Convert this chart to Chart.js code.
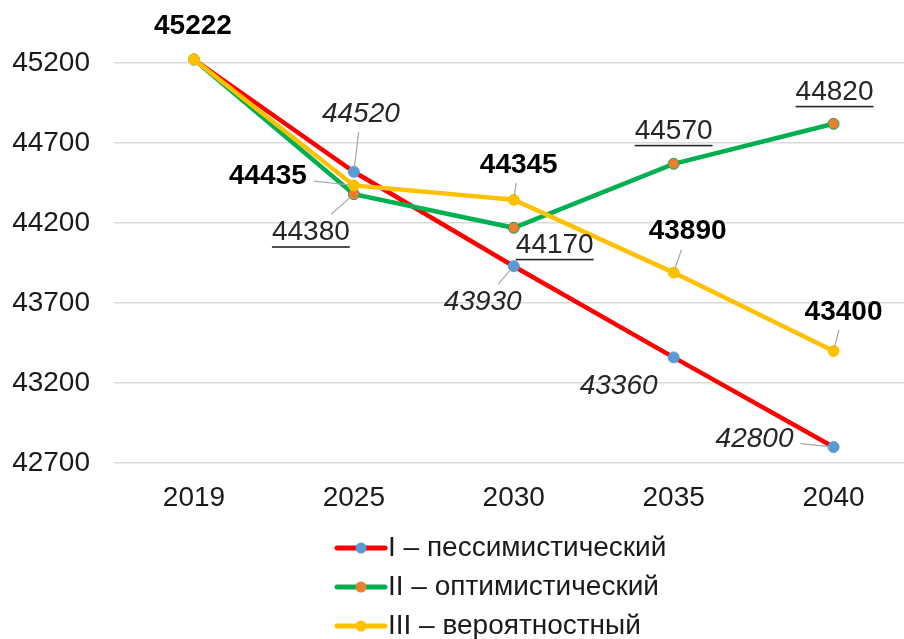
<!DOCTYPE html>
<html>
<head>
<meta charset="utf-8">
<script src="https://cdn.jsdelivr.net/npm/chart.js@4.4.0/dist/chart.umd.min.js"></script>
<style>
html,body{margin:0;padding:0;overflow:hidden;background:#fff;width:904px;height:639px}
#wrap{position:relative;width:920px;height:639px}
</style>
</head>
<body>
<div id="wrap"><canvas id="c" width="920" height="639"></canvas></div>
<script>
// ---- data ----
const years = ['2019', '2025', '2030', '2035', '2040'];
const pessimistic = [45222, 44520, 43930, 43360, 42800];
const optimistic  = [45222, 44380, 44170, 44570, 44820];
const probable    = [45222, 44435, 44345, 43890, 43400];
const seriesNames = ['I – пессимистический', 'II – оптимистический', 'III – вероятностный'];
const yMin = 42700, yMax = 45200, yStep = 500;

// ---- styling / layout ----
const FONT = '"Liberation Sans", Arial, sans-serif';
const FS = 28;
const lineColors = ['#FF0000', '#00B050', '#FFC000'];
const markerColors = ['#5B9BD5', '#ED7D31', '#FFC000'];

const labelLayout = [
  { style: 'italic', weight: 'normal', underline: false, color: '#262626',
    offsets: [null, [7, -58], [-31, 36], [-55, 29], [-79, -8]],
    leaders: [false, true, true, false, true] },
  { style: 'normal', weight: 'normal', underline: true, color: '#262626',
    offsets: [null, [-43, 38], [41, 17], [0, -33], [1, -32]],
    leaders: [false, true, false, false, false] },
  { style: 'normal', weight: 'bold', underline: false, color: '#000000',
    offsets: [[-1, -33], [-86, -9], [5, -35], [14, -41], [10, -39]],
    leaders: [false, true, true, true, true] }
];

const dataLabelPlugin = {
  id: 'dataLabels',
  afterDatasetsDraw(chart) {
    const ctx = chart.ctx;
    chart.data.datasets.forEach((ds, i) => {
      const meta = chart.getDatasetMeta(i);
      const L = labelLayout[i];
      meta.data.forEach((pt, j) => {
        const off = L.offsets[j];
        if (!off) return;
        const text = String(ds.data[j]);
        const lx = pt.x + off[0], ly = pt.y + off[1];
        ctx.save();
        ctx.font = `${L.style} ${L.weight} ${FS}px ${FONT}`;
        const w = ctx.measureText(text).width;
        if (L.leaders[j]) {
          const dx = pt.x - lx, dy = pt.y - ly;
          const hw = w / 2 + 7, hh = 18;
          const t = Math.min(dx ? hw / Math.abs(dx) : 1e9, dy ? hh / Math.abs(dy) : 1e9);
          const sx = lx + dx * t, sy = ly + dy * t;
          const len = Math.hypot(dx, dy);
          const ex = pt.x - dx / len * 4, ey = pt.y - dy / len * 4;
          ctx.strokeStyle = '#a6a6a6';
          ctx.lineWidth = 1.2;
          ctx.beginPath();
          ctx.moveTo(sx, sy);
          ctx.lineTo(ex, ey);
          ctx.stroke();
        }
        ctx.fillStyle = L.color;
        ctx.textAlign = 'center';
        ctx.textBaseline = 'middle';
        ctx.fillText(text, lx, ly);
        if (L.underline) {
          ctx.fillRect(lx - w / 2, ly + 14, w, 1.6);
        }
        ctx.restore();
      });
    });
  }
};

const legendPlugin = {
  id: 'customLegend',
  afterDraw(chart) {
    const ctx = chart.ctx;
    const x0 = 337, x1 = 385, rowsY = [548, 587, 626];
    chart.data.datasets.forEach((ds, i) => {
      const y = rowsY[i];
      ctx.save();
      ctx.strokeStyle = lineColors[i];
      ctx.lineWidth = 5;
      ctx.lineCap = 'round';
      ctx.beginPath();
      ctx.moveTo(x0, y);
      ctx.lineTo(x1, y);
      ctx.stroke();
      ctx.fillStyle = markerColors[i];
      ctx.beginPath();
      ctx.arc((x0 + x1) / 2, y, 5.5, 0, Math.PI * 2);
      ctx.fill();
      ctx.fillStyle = '#1a1a1a';
      ctx.font = `${FS}px ${FONT}`;
      ctx.textAlign = 'left';
      ctx.textBaseline = 'middle';
      ctx.fillText(ds.label, 388, y);
      ctx.restore();
    });
  }
};

const seriesData = [pessimistic, optimistic, probable];
const datasets = seriesData.map((d, i) => ({
  label: seriesNames[i],
  data: d,
  borderColor: lineColors[i],
  backgroundColor: markerColors[i],
  borderWidth: 4.5,
  pointRadius: 5.5,
  pointBackgroundColor: markerColors[i],
  pointBorderColor: i === 1 ? '#00B050' : markerColors[i],
  pointBorderWidth: 1,
  tension: 0,
  clip: false,
  order: 2 - i
}));

new Chart(document.getElementById('c'), {
  type: 'line',
  data: { labels: years, datasets },
  options: {
    responsive: false,
    animation: false,
    layout: { padding: { top: 63, right: 3, bottom: 126, left: 0 } },
    plugins: { legend: { display: false }, tooltip: { enabled: false } },
    scales: {
      x: {
        offset: true,
        grid: { display: false, drawTicks: false },
        border: { display: false },
        ticks: { color: '#1a1a1a', font: { family: FONT, size: FS }, padding: 18 },
        afterFit(scale) { scale.height = 50; }
      },
      y: {
        min: yMin, max: yMax,
        grid: { color: '#d9d9d9', lineWidth: 1.5, drawTicks: false },
        border: { display: false },
        ticks: {
          stepSize: yStep,
          color: '#1a1a1a',
          font: { family: FONT, size: FS },
          padding: 24,
          callback: v => String(v)
        },
        afterFit(scale) { scale.width = 114; }
      }
    }
  },
  plugins: [dataLabelPlugin, legendPlugin]
});
</script>
</body>
</html>
